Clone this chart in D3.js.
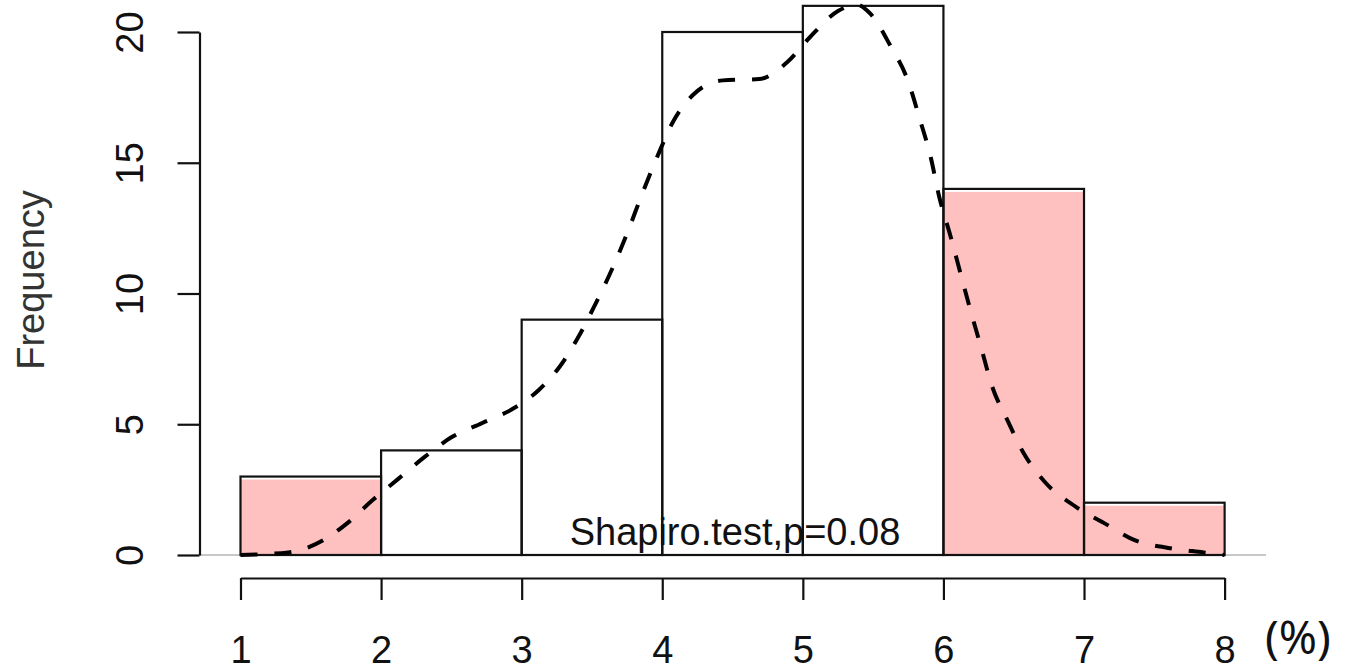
<!DOCTYPE html>
<html>
<head>
<meta charset="utf-8">
<script src="https://cdn.jsdelivr.net/npm/d3@7"></script>
<style>
  body { margin: 0; background: #fff; }
  svg { display: block; }
</style>
</head>
<body>
<div id="chart"></div>
<script>
// histogram bins (percent) and counts
var breaks = [1, 2, 3, 4, 5, 6, 7, 8];
var counts = [3, 4, 9, 20, 21, 14, 2];
// bins shaded pink
var shaded = [true, false, false, false, false, true, true];
var yTicks = [0, 5, 10, 15, 20];
var xTicks = [1, 2, 3, 4, 5, 6, 7, 8];

// density curve, scaled to frequency units
var densX = [1.00, 1.34, 1.59, 1.76, 1.94, 2.12, 2.31, 2.50, 2.72, 2.94, 3.12, 3.27, 3.41, 3.52, 3.64,
             3.75, 3.86, 3.97, 4.07, 4.22, 4.43, 4.69, 4.89, 5.05, 5.25, 5.38, 5.48, 5.62, 5.75, 5.83,
             5.91, 5.97, 6.05, 6.12, 6.19, 6.27, 6.34, 6.46, 6.57, 6.72, 6.94, 7.15, 7.36, 7.60, 7.85, 8.00];
var densY = [0.00, 0.10, 0.57, 1.22, 2.10, 2.90, 3.75, 4.50, 5.05, 5.60, 6.30, 7.20, 8.40, 9.55, 10.9,
             12.3, 13.85, 15.3, 16.5, 17.6, 18.15, 18.2, 18.85, 19.8, 20.8, 21.05, 20.7, 19.5, 18.1, 16.7,
             15.2, 13.7, 12.2, 10.8, 9.4, 7.9, 6.55, 5.1, 3.9, 2.8, 1.85, 1.2, 0.57, 0.27, 0.10, 0.00];

var noteText = "Shapiro.test,p=0.08";
var unitText = "(%)";

var W = 1347, H = 670;
var FONT = "'Liberation Sans', Arial, sans-serif";

var svg = d3.select("#chart")
    .append("svg")
    .attr("width", W)
    .attr("height", H);

var x = d3.scaleLinear().domain([1, 8]).range([240.5, 1224.6]);
var y = d3.scaleLinear().domain([0, 20]).range([555, 32]);

var bins = counts.map(function(c, i) {
    return {x0: breaks[i], x1: breaks[i + 1], n: c, pink: shaded[i]};
});

// pink fills
svg.append("g")
    .selectAll("rect")
    .data(bins.filter(function(d) { return d.pink; }))
    .join("rect")
    .attr("x", function(d) { return x(d.x0); })
    .attr("y", function(d) { return y(d.n) + 3; })
    .attr("width", function(d) { return x(d.x1) - x(d.x0) - 1; })
    .attr("height", function(d) { return y(0) - y(d.n) - 3; })
    .attr("fill", "#ffc0c0");

// light baseline
svg.append("line")
    .attr("x1", 200).attr("x2", 1266)
    .attr("y1", y(0)).attr("y2", y(0))
    .attr("stroke", "#c8c8c8")
    .attr("stroke-width", 2);

// test annotation
svg.append("text")
    .attr("x", 735)
    .attr("y", 545)
    .attr("text-anchor", "middle")
    .attr("font-family", FONT)
    .attr("font-size", 38)
    .attr("fill", "#111")
    .text(noteText);

// bar outlines
svg.append("g")
    .selectAll("rect")
    .data(bins)
    .join("rect")
    .attr("x", function(d) { return x(d.x0); })
    .attr("y", function(d) { return y(d.n); })
    .attr("width", function(d) { return x(d.x1) - x(d.x0); })
    .attr("height", function(d) { return y(0) - y(d.n); })
    .attr("fill", "none")
    .attr("stroke", "#111")
    .attr("stroke-width", 2.2);

// density curve
var pts = densX.map(function(v, i) { return [v, densY[i]]; });
svg.append("path")
    .datum(pts)
    .attr("fill", "none")
    .attr("stroke", "#000")
    .attr("stroke-width", 4)
    .attr("stroke-dasharray", "17,17")
    .attr("d", d3.line()
        .x(function(d) { return x(d[0]); })
        .y(function(d) { return y(d[1]); })
        .curve(d3.curveMonotoneX)
    );

// Y axis
var yAxis = svg.append("g")
    .attr("transform", "translate(199.5,0)")
    .call(d3.axisLeft(y).tickValues(yTicks).tickSize(22).tickSizeOuter(0));
yAxis.selectAll("path, line").attr("stroke", "#111").attr("stroke-width", 2.2);
yAxis.selectAll("text")
    .attr("transform", "rotate(-90)")
    .attr("x", 0)
    .attr("y", -56.5)
    .attr("dy", 0)
    .attr("text-anchor", "middle")
    .attr("font-family", FONT)
    .attr("font-size", 38)
    .attr("fill", "#111");

// X axis (drawn below the plot, R style)
var xAxis = svg.append("g")
    .attr("transform", "translate(0,578)")
    .call(d3.axisBottom(x).tickValues(xTicks).tickFormat(d3.format("d")).tickSize(22).tickSizeOuter(0));
xAxis.selectAll("path, line").attr("stroke", "#111").attr("stroke-width", 2.2);
xAxis.selectAll("text")
    .attr("y", 85)
    .attr("dy", 0)
    .attr("font-family", FONT)
    .attr("font-size", 38)
    .attr("fill", "#111");

// axis titles
svg.append("text")
    .attr("transform", "translate(44,280) rotate(-90)")
    .attr("text-anchor", "middle")
    .attr("font-family", FONT)
    .attr("font-size", 38)
    .attr("fill", "#333")
    .text("Frequency");

svg.append("text")
    .attr("x", 1265)
    .attr("y", 654)
    .attr("font-family", "'Noto Sans', sans-serif")
    .attr("font-size", 46)
    .attr("fill", "#111")
    .text(unitText);
</script>
</body>
</html>
